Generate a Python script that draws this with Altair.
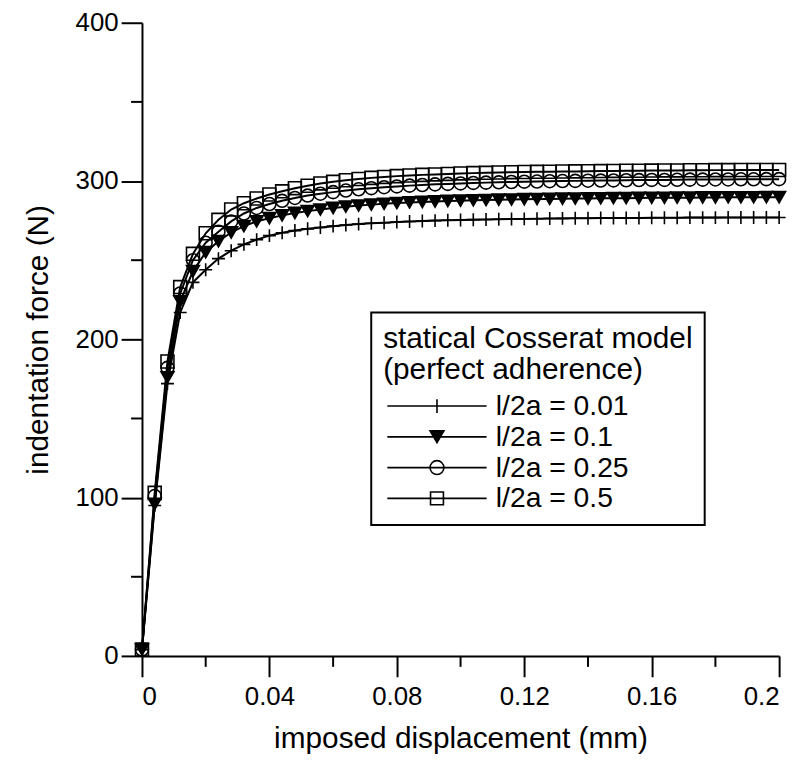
import altair as alt
import pandas as pd

# imposed displacement (mm)
disp = [0, 0.004, 0.008, 0.012, 0.016, 0.02, 0.024, 0.028, 0.032, 0.036,
        0.04, 0.044, 0.048, 0.052, 0.056, 0.06, 0.064, 0.068, 0.072, 0.076,
        0.08, 0.084, 0.088, 0.092, 0.096, 0.1, 0.104, 0.108, 0.112, 0.116,
        0.12, 0.124, 0.128, 0.132, 0.136, 0.14, 0.144, 0.148, 0.152, 0.156,
        0.16, 0.164, 0.168, 0.172, 0.176, 0.18, 0.184, 0.188, 0.192, 0.196, 0.2]

# indentation force (N)
force_001 = [4, 95, 172, 217, 236, 244, 251, 256, 260, 263,
             265.5, 267.3, 268.7, 269.8, 270.7, 271.5, 272.2, 272.8, 273.3, 273.7,
             274.1, 274.4, 274.7, 275, 275.2, 275.4, 275.6, 275.7, 275.9, 276,
             276.1, 276.2, 276.3, 276.4, 276.5, 276.5, 276.6, 276.6, 276.7, 276.7,
             276.8, 276.8, 276.8, 276.9, 276.9, 276.9, 277, 277, 277, 277, 277]
force_01 = [4, 96, 176, 224, 243, 255, 262, 267.5, 271.5, 274.5,
            276.5, 278.3, 279.8, 281, 282, 283, 283.8, 284.5, 285.1, 285.6,
            286.1, 286.5, 286.8, 287.1, 287.4, 287.6, 287.8, 288, 288.2, 288.3,
            288.5, 288.6, 288.7, 288.8, 288.9, 289, 289.1, 289.2, 289.2, 289.3,
            289.4, 289.4, 289.5, 289.5, 289.6, 289.6, 289.7, 289.7, 289.7, 289.8, 289.8]
force_025 = [4, 101, 182, 229, 250, 261, 268, 274.5, 279.5, 283,
             285.5, 287.5, 289.3, 290.8, 292, 293, 294, 294.8, 295.5, 296.1,
             296.6, 297.1, 297.5, 297.9, 298.2, 298.5, 298.8, 299, 299.2, 299.4,
             299.6, 299.7, 299.9, 300, 300.1, 300.2, 300.3, 300.4, 300.5, 300.6,
             300.7, 300.7, 300.8, 300.9, 300.9, 301, 301, 301.1, 301.1, 301.2, 301.2]
force_05 = [4, 103, 186, 233, 254, 267, 275.5, 282, 286, 289,
            291.5, 293.5, 295.5, 297, 298.5, 299.5, 300.5, 301.3, 302, 302.6,
            303.1, 303.5, 303.9, 304.2, 304.5, 304.8, 305, 305.2, 305.4, 305.6,
            305.7, 305.8, 305.9, 306, 306.1, 306.2, 306.3, 306.4, 306.5, 306.5,
            306.6, 306.7, 306.7, 306.8, 306.8, 306.9, 306.9, 307, 307, 307, 307]

series_labels = ["l/2a = 0.01", "l/2a = 0.1", "l/2a = 0.25", "l/2a = 0.5"]
legend_title = ["statical Cosserat model", "(perfect adherence)"]
x_ticks = [0, 0.04, 0.08, 0.12, 0.16, 0.2]
x_minor = [0.02, 0.06, 0.1, 0.14, 0.18]
y_ticks = [0, 100, 200, 300, 400]
y_minor = [50, 150, 250, 350]

rows = []
for lab, vals in zip(series_labels, [force_001, force_01, force_025, force_05]):
    for x, y in zip(disp, vals):
        rows.append({"series": lab, "disp": x, "force": y})
df = pd.DataFrame(rows)

FONT = "Liberation Sans"

plot_shapes = ["M-1,0H1M0,-1V1", "triangle-down", "circle", "square"]
legend_shapes = [
    "M-5,0H5M0,-0.7V0.7",
    "M-5,0H5M-0.7,-0.6H0.7L0,0.6Z",
    "M-5,0H5M0.7,0A0.7,0.7,0,1,1,-0.7,0A0.7,0.7,0,1,1,0.7,0",
    "M-5,0H5M-0.65,-0.65H0.65V0.65H-0.65Z",
]
fills = ["transparent", "black", "transparent", "transparent"]

x_enc = alt.X(
    "disp:Q",
    scale=alt.Scale(domain=[0, 0.2], nice=False, zero=False),
    axis=alt.Axis(title="imposed displacement (mm)", values=x_ticks, format="~g", grid=False,
                  labelPadding=7, titlePadding=14),
)
y_enc = alt.Y(
    "force:Q",
    scale=alt.Scale(domain=[0, 400], nice=False),
    axis=alt.Axis(title="indentation force (N)", values=y_ticks, format="d", grid=False,
                  labelPadding=3, titlePadding=22),
)

lines = alt.Chart(df).mark_line(color="black", strokeWidth=2).encode(
    x=x_enc, y=y_enc, detail="series:N", order="disp:Q"
)

points = alt.Chart(df).mark_point(filled=False, color="black", strokeWidth=1.6, size=170, opacity=1).encode(
    x=x_enc,
    y=y_enc,
    shape=alt.Shape("series:N", scale=alt.Scale(domain=series_labels, range=plot_shapes), legend=None),
    fill=alt.Fill("series:N", scale=alt.Scale(domain=series_labels, range=fills), legend=None),
)

legend_layer = alt.Chart(df).transform_filter("false").mark_point(
    filled=False, color="black", strokeWidth=1.6, opacity=1
).encode(
    x=x_enc,
    y=y_enc,
    shape=alt.Shape("series:N", scale=alt.Scale(domain=series_labels, range=legend_shapes),
                    legend=alt.Legend(title=legend_title)),
    fill=alt.Fill("series:N", scale=alt.Scale(domain=series_labels, range=fills),
                  legend=alt.Legend(title=legend_title)),
)

x_minor_ticks = alt.Chart(pd.DataFrame({"disp": x_minor})).mark_rule(color="black", strokeWidth=2).encode(
    x=x_enc, y=alt.value(638), y2=alt.value(649)
)
y_minor_ticks = alt.Chart(pd.DataFrame({"force": y_minor})).mark_rule(color="black", strokeWidth=2).encode(
    y=y_enc, x=alt.value(0), x2=alt.value(-11)
)

chart = alt.layer(lines, points, legend_layer, x_minor_ticks, y_minor_ticks).resolve_scale(
    shape="independent", fill="independent"
).properties(
    width=642, height=638,
    autosize=alt.AutoSizeParams(type="none"),
    padding={"left": 135, "top": 12, "right": 16, "bottom": 100},
).configure_view(stroke=None).configure_axis(
    domainColor="black", domainWidth=2, tickColor="black", tickWidth=2, tickSize=21,
    labelFont=FONT, labelFontSize=26, labelColor="black",
    titleFont=FONT, titleFontSize=30, titleColor="black", titleFontWeight="normal",
).configure_legend(
    orient="none", legendX=231, legendY=292,
    strokeColor="black", strokeWidth=2, fillColor="white", padding=12,
    titleFont=FONT, titleFontSize=30, titleFontWeight="normal", titleColor="black",
    titleLineHeight=31, titlePadding=7, titleLimit=1000,
    labelFont=FONT, labelFontSize=28.5, labelColor="black", labelLimit=1000,
    symbolSize=400, symbolStrokeWidth=1.6, symbolOffset=40, labelOffset=45,
    rowPadding=2,
)

chart.save("out.html", embed_options={"renderer": "svg", "actions": False})
